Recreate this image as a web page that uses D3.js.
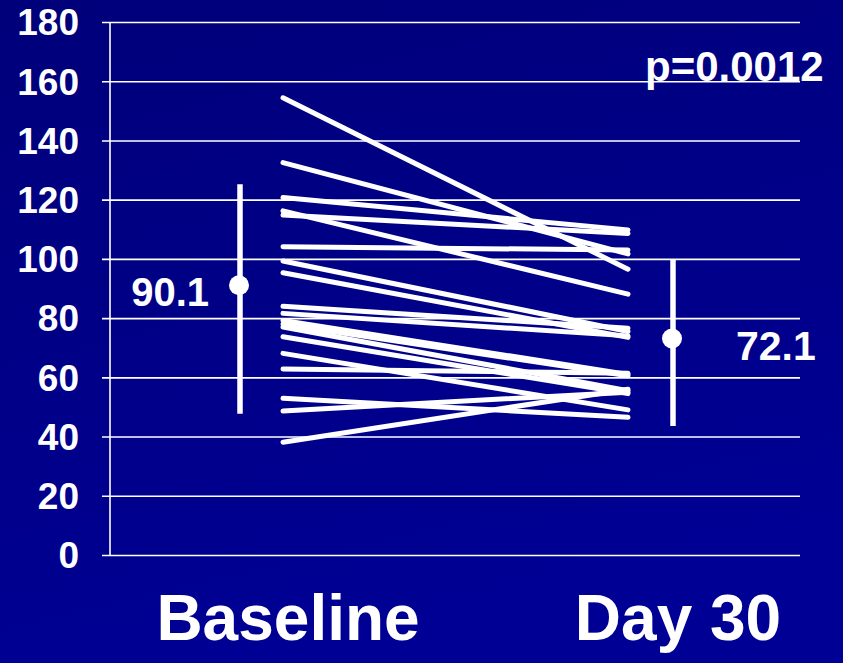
<!DOCTYPE html>
<html>
<head>
<meta charset="utf-8">
<script src="https://cdn.jsdelivr.net/npm/d3@7"></script>
<style>
  html, body { margin: 0; padding: 0; background: #000080; }
  svg { display: block; }
  text { font-family: "Liberation Sans", Arial, sans-serif; font-weight: bold; fill: #fff; }
</style>
</head>
<body>
<svg id="chart" width="843" height="663"></svg>
<script>
var categories = ["Baseline", "Day 30"];
var baseline = [154.4, 132.5, 120.7, 114.8, 116.2, 104.1, 99.3, 95.3, 84.0, 81.6, 79.2, 78.0, 77.0, 73.7, 68.1, 62.8, 52.9, 48.6, 38.1];
var day30    = [96.5, 101.7, 109.8, 108.6, 88.1, 103.0, 75.5, 73.5, 76.6, 74.0, 61.0, 60.5, 55.5, 54.5, 49.0, 61.4, 46.5, 55.0, 56.0];
var means    = [90.1, 72.1];
var barTop   = [125.2, 100.0];
var barBot   = [47.7, 43.6];
var yTicks   = [0, 20, 40, 60, 80, 100, 120, 140, 160, 180];
var pLabel   = "p=0.0012";

var svg = d3.select("#chart"),
    W = +svg.attr("width"), H = +svg.attr("height");

var defs = svg.append("defs");
var grad = defs.append("linearGradient").attr("id", "bg")
  .attr("x1", 0).attr("y1", 0).attr("x2", 0.3).attr("y2", 1);
grad.append("stop").attr("offset", "0%").attr("stop-color", "#00007a");
grad.append("stop").attr("offset", "100%").attr("stop-color", "#000094");

svg.append("rect").attr("width", W).attr("height", H).attr("fill", "url(#bg)");

var y = d3.scaleLinear().domain([0, 180]).range([555, 22]);
// x positions of the two time points (days)
var x = d3.scaleLinear().domain([0, 30]).range([283, 628]);
var xLabel = d3.scalePoint().domain(categories).range([288, 678]);

var axisX = 110, gridRight = 800;

// gridlines + ticks
svg.append("g")
  .attr("transform", "translate(" + axisX + ",0)")
  .call(d3.axisLeft(y).tickValues(yTicks).tickSize(-(gridRight - axisX)).tickSizeOuter(0).tickFormat(""))
  .call(function(g) {
    g.select(".domain").remove();
    g.selectAll(".tick line").attr("stroke", "#fff").attr("stroke-width", 1.6)
      .attr("x1", -8);
  });

// y axis line
svg.append("line")
  .attr("x1", axisX).attr("x2", axisX)
  .attr("y1", y(180)).attr("y2", y(0))
  .attr("stroke", "#fff").attr("stroke-width", 1.6);

// tick labels
svg.append("g").selectAll("text")
  .data(yTicks).enter().append("text")
  .attr("x", 79)
  .attr("y", function(d) { return y(d); })
  .attr("dy", "0.36em")
  .attr("text-anchor", "end")
  .style("font-size", "37px")
  .text(function(d) { return d; });

// p value
svg.append("text")
  .attr("x", 645).attr("y", 81)
  .style("font-size", "42px")
  .text(pLabel);

// individual patient lines
svg.append("g").selectAll("line")
  .data(baseline).enter().append("line")
  .attr("x1", x(0)).attr("x2", x(30))
  .attr("y1", function(d) { return y(d); })
  .attr("y2", function(d, i) { return y(day30[i]); })
  .attr("stroke", "#fff").attr("stroke-width", 5)
  .attr("stroke-linecap", "round");

// mean markers with ranges
var meanX = [x(0) - 43, x(30) + 45];
var mg = svg.append("g");
mg.selectAll("line")
  .data(means).enter().append("line")
  .attr("x1", function(d, i) { return meanX[i]; })
  .attr("x2", function(d, i) { return meanX[i]; })
  .attr("y1", function(d, i) { return y(barTop[i]); })
  .attr("y2", function(d, i) { return y(barBot[i]); })
  .attr("stroke", "#fff").attr("stroke-width", 5.5);
mg.selectAll("circle")
  .data(means).enter().append("circle")
  .attr("cx", function(d, i) { return meanX[i] - 1; })
  .attr("cy", function(d) { return y(d) - 3; })
  .attr("r", 10)
  .attr("fill", "#fff");

// mean labels
svg.append("text")
  .attr("x", 209).attr("y", y(means[0]) + 3).attr("dy", "0.36em")
  .attr("text-anchor", "end")
  .style("font-size", "40px")
  .text(means[0]);
svg.append("text")
  .attr("x", 736).attr("y", y(means[1]) + 4).attr("dy", "0.36em")
  .style("font-size", "41px")
  .text(means[1]);

// category labels
svg.append("g").selectAll("text")
  .data(categories).enter().append("text")
  .attr("x", function(d) { return xLabel(d); })
  .attr("y", 640)
  .attr("text-anchor", "middle")
  .style("font-size", "64px")
  .text(function(d) { return d; });
</script>
</body>
</html>
